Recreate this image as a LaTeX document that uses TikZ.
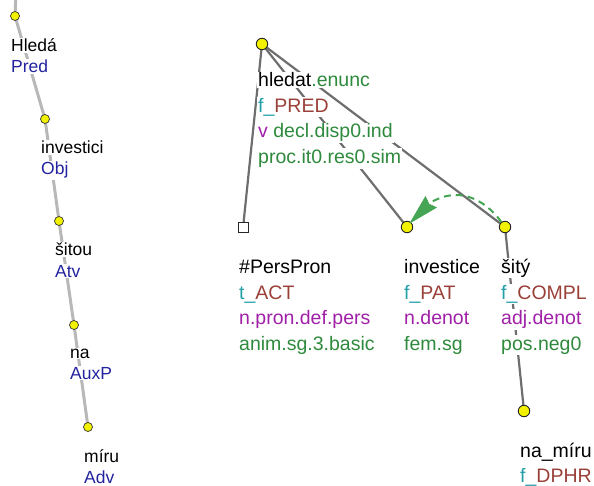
\documentclass[tikz,border=0pt]{standalone}
\usepackage{fontspec}
\setmainfont{Liberation Sans}
\usetikzlibrary{arrows.meta}
\definecolor{lblue}{HTML}{2323A0}
\definecolor{tteal}{HTML}{22A0A8}
\definecolor{tbrown}{HTML}{9A4038}
\definecolor{tmag}{HTML}{A020A8}
\definecolor{tgreen}{HTML}{2E8A3C}
\definecolor{agreen}{HTML}{45A555}
\definecolor{ledge}{HTML}{B8B8B8}
\definecolor{redge}{HTML}{6E6E6E}
\definecolor{nyellow}{HTML}{F2F200}
\pgfdeclarelayer{edges}
\pgfdeclarelayer{labels}
\pgfsetlayers{edges,labels,main}
\tikzset{
  lt/.style={anchor=base west, fill=white, inner sep=1pt, font=\fontsize{17.5}{20}\selectfont},
  rt/.style={anchor=base west, fill=white, inner sep=1pt, font=\fontsize{19.5}{23}\selectfont},
  lnode/.style={circle, draw=black!80, fill=nyellow, line width=0.7pt, inner sep=0pt, minimum size=9pt},
  rnode/.style={circle, draw=black!85, fill=nyellow, line width=0.9pt, inner sep=0pt, minimum size=11.5pt},
  sqnode/.style={rectangle, draw=black!85, fill=white, line width=1pt, inner sep=0pt, minimum size=10pt},
  ledgestyle/.style={draw=ledge, line width=3pt},
  redgestyle/.style={draw=redge, line width=2.2pt},
  corefarrow/.style={draw=agreen, line width=2pt, dash pattern=on 7pt off 5pt},
  corefhead/.style={draw=agreen, fill=agreen, line width=0.5pt, line join=round}
}
\begin{document}
\begin{tikzpicture}[x=1pt,y=-1pt]
\useasboundingbox (0,0) rectangle (594,486);
% ---------- left (analytical) tree ----------
\coordinate (ltop) at (15.7,0);
\node[lnode] (l1) at (15,16) {};
\node[lnode] (l2) at (45,119) {};
\node[lnode] (l3) at (59,221) {};
\node[lnode] (l4) at (74,325) {};
\node[lnode] (l5) at (88,427) {};
\begin{pgfonlayer}{labels}
\node[lt] (l1a) at (10,52) {Hledá};
\node[lt, text=lblue] (l1b) at (10,73) {Pred};
\node[lt] (l2a) at (40,154) {investici};
\node[lt, text=lblue] (l2b) at (40,175) {Obj};
\node[lt] (l3a) at (54,256) {šitou};
\node[lt, text=lblue] (l3b) at (54,277) {Atv};
\node[lt] (l4a) at (69,358) {na};
\node[lt, text=lblue] (l4b) at (69,379) {AuxP};
\node[lt] (l5a) at (83,462) {míru};
\node[lt, text=lblue] (l5b) at (83,483) {Adv};
\end{pgfonlayer}
% ---------- right (tectogrammatical) tree ----------
\node[rnode] (root) at (262,44) {};
\node[sqnode] (pers) at (243,228) {};
\node[rnode] (inv) at (407,227) {};
\node[rnode] (sity) at (505,227) {};
\node[rnode] (namiru) at (524,411) {};
\begin{pgfonlayer}{labels}
\node[rt] (r1) at (257,87) {hledat{\color{tgreen}.enunc}};
\node[rt] (r2) at (257,112.5) {{\color{tteal}f\_}{\color{tbrown}PRED}};
\node[rt] (r3) at (257,138) {{\color{tmag}v} {\color{tgreen}decl.disp0.ind}};
\node[rt, text=tgreen] (r4) at (257,163.5) {proc.it0.res0.sim};
\node[rt] (p1) at (238,273) {\#PersPron};
\node[rt] (p2) at (238,299) {{\color{tteal}t\_}{\color{tbrown}ACT}};
\node[rt, text=tmag] (p3) at (238,324.5) {n.pron.def.pers};
\node[rt, text=tgreen] (p4) at (238,350) {anim.sg.3.basic};
\node[rt] (i1) at (403,273) {investice};
\node[rt] (i2) at (403,299) {{\color{tteal}f\_}{\color{tbrown}PAT}};
\node[rt, text=tmag] (i3) at (403,324.5) {n.denot};
\node[rt, text=tgreen] (i4) at (403,350) {fem.sg};
\node[rt] (s1) at (500,273) {šitý};
\node[rt] (s2) at (500,299) {{\color{tteal}f\_}{\color{tbrown}COMPL}};
\node[rt, text=tmag] (s3) at (500,324.5) {adj.denot};
\node[rt, text=tgreen] (s4) at (500,350) {pos.neg0};
\node[rt] (n1) at (519,457) {na\_míru};
\node[rt] (n2) at (519,482) {{\color{tteal}f\_}{\color{tbrown}DPHR}};
\end{pgfonlayer}
\begin{pgfonlayer}{edges}
\draw[ledgestyle] (ltop) -- (l1.center);
\draw[ledgestyle] (l1.center) -- (l2.center);
\draw[ledgestyle] (l2.center) -- (l3.center);
\draw[ledgestyle] (l3.center) -- (l4.center);
\draw[ledgestyle] (l4.center) -- (l5.center);
\draw[redgestyle] (root.center) -- (pers);
\draw[redgestyle] (root.center) -- (inv.center);
\draw[redgestyle] (root.center) -- (sity.center);
\draw[redgestyle] (sity.center) -- (namiru.center);
\end{pgfonlayer}
% coreference arrow: dashed curve plus a large filled head
\coordinate (headbase) at (430,203);
\coordinate (headtip) at (410,223);
\draw[corefarrow] (sity) .. controls (484,198) and (457,186) .. (headbase);
\draw[corefhead] (headtip) -- (425.5,196.5) -- (429,204) -- (436.5,207.5) -- cycle;
\end{tikzpicture}
\end{document}
